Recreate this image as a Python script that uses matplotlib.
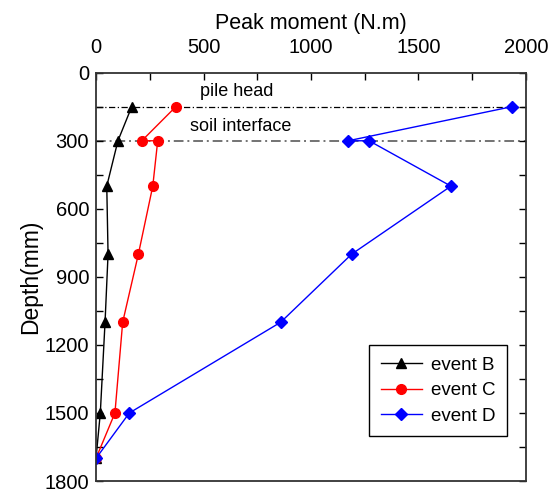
import numpy as np
import matplotlib
matplotlib.use("Agg")
import matplotlib.pyplot as plt
from matplotlib.ticker import MultipleLocator

plt.rcParams['font.family'] = ['Liberation Sans', 'DejaVu Sans']

depth = [150, 300, 500, 800, 1100, 1500, 1700]
depth_cd = [150, 300, 300, 500, 800, 1100, 1500, 1700]
moment_b = [166, 102, 50, 56, 42, 20, 0]
moment_c = [371, 213, 287, 264, 197, 124, 88, 0]
moment_d = [1933, 1173, 1270, 1651, 1189, 859, 155, 0]

fig = plt.figure(figsize=(5.55, 4.93), dpi=100)
ax = fig.add_axes([0.173, 0.0243, 0.9477 - 0.173, 0.8525 - 0.0243])

ax.axhline(150, color="black", lw=0.9, ls=(0, (5, 2, 1, 2)), zorder=1)
ax.axhline(300, color="0.45", lw=1.4, ls=(0, (5, 2, 1, 2)), zorder=1)
ax.text(484, 85, "pile head", fontsize=13, va="center")
ax.text(437, 235, "soil interface", fontsize=13, va="center")

ax.plot(moment_b, depth, color="black", marker="^", ms=7, lw=1, label="event B")
ax.plot(moment_c, depth_cd, color="red", marker="o", ms=7, lw=1, label="event C")
ax.plot(moment_d, depth_cd, color="blue", marker="D", ms=6, lw=1, label="event D")

ax.set_xlim(0, 2000)
ax.set_ylim(1800, 0)
ax.xaxis.set_label_position("top")
ax.xaxis.tick_top()
ax.set_xlabel("Peak moment (N.m)", fontsize=15.5, labelpad=7)
ax.set_ylabel("Depth(mm)", fontsize=16.5, labelpad=2)
ax.xaxis.set_major_locator(MultipleLocator(500))
ax.xaxis.set_minor_locator(MultipleLocator(250))
ax.yaxis.set_major_locator(MultipleLocator(300))
ax.yaxis.set_minor_locator(MultipleLocator(150))
ax.tick_params(axis="both", which="both", direction="in", labelsize=14.5,
               top=True, bottom=False, left=True, right=True)
ax.tick_params(which="both", length=5, width=1)
ax.tick_params(axis="x", which="both", top=True, labeltop=True, labelbottom=False, pad=11)
ax.tick_params(axis="y", which="both", pad=5)

for s in ax.spines.values():
    s.set_linewidth(1.3)
    s.set_color("0.2")

leg = ax.legend(loc="lower right", bbox_to_anchor=(0.956, 0.11), fontsize=13.5,
                fancybox=False, edgecolor="black", framealpha=1, borderaxespad=0,
                handlelength=2.2, borderpad=0.6, labelspacing=0.45, handletextpad=0.5)
leg.get_frame().set_linewidth(1)

fig.savefig("out.png", dpi=100)
